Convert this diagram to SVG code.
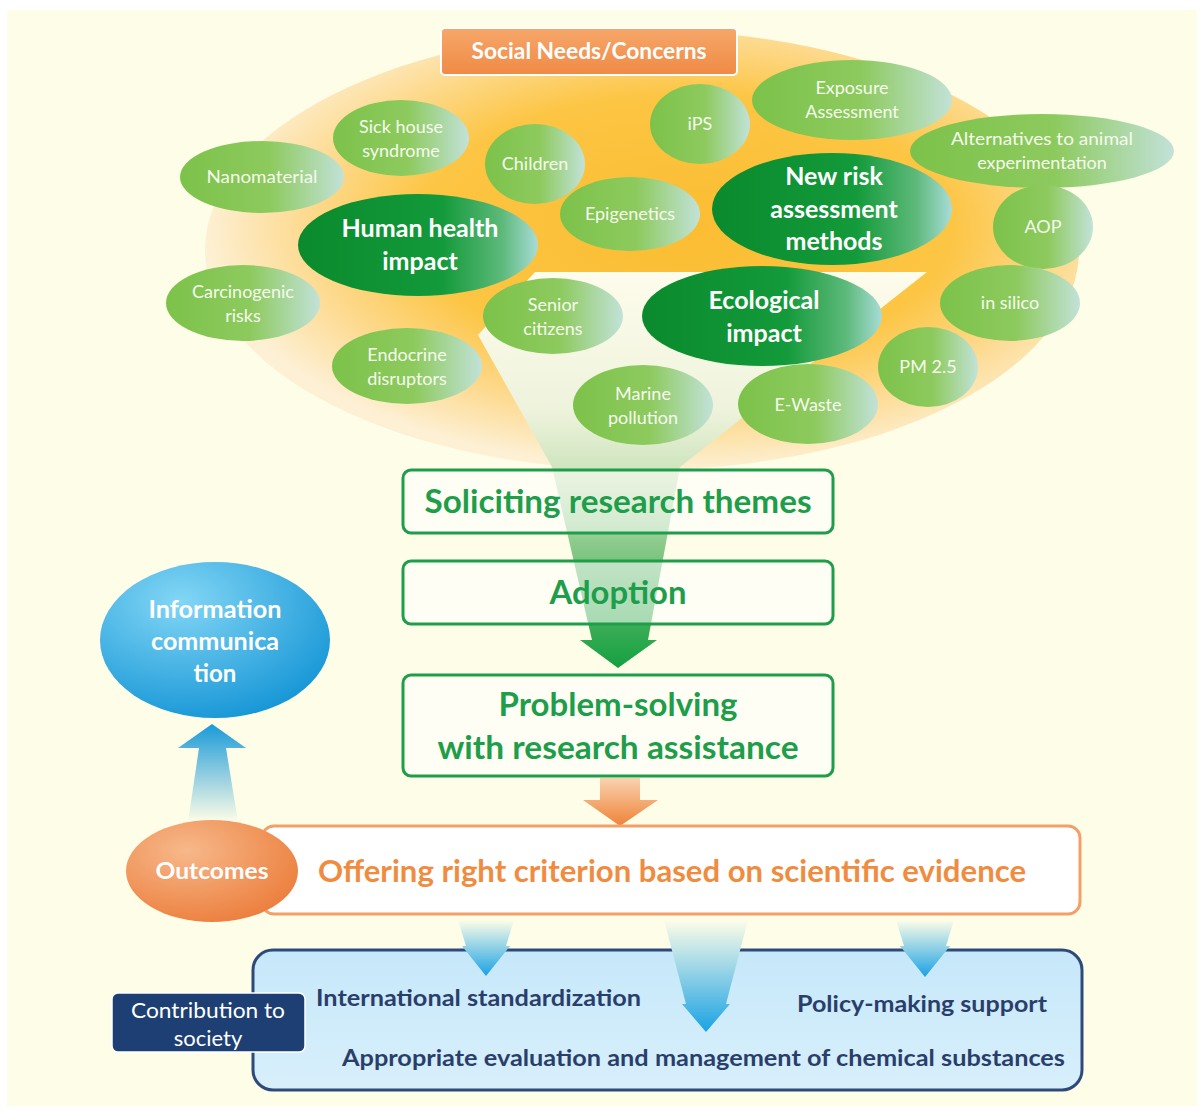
<svg xmlns="http://www.w3.org/2000/svg" width="1202" height="1110" viewBox="0 0 1202 1110">
<defs>
<radialGradient id="gBig" cx="0.55" cy="0.45" r="0.55">
<stop offset="0" stop-color="#fbbd32"/>
<stop offset="0.55" stop-color="#fcc543"/>
<stop offset="0.8" stop-color="#fddb93"/>
<stop offset="1" stop-color="#fdf0d4"/>
</radialGradient>
<linearGradient id="gFunnel" gradientUnits="userSpaceOnUse" x1="0" y1="272" x2="0" y2="668">
<stop offset="0" stop-color="#fefcec"/>
<stop offset="0.35" stop-color="#eef3dc"/>
<stop offset="0.55" stop-color="#c4e0b4"/>
<stop offset="0.8" stop-color="#5cb86a"/>
<stop offset="1" stop-color="#14a040"/>
</linearGradient>
<linearGradient id="gLight" x1="0" y1="0" x2="1" y2="0">
<stop offset="0" stop-color="#7cc24a"/>
<stop offset="0.55" stop-color="#8dca5e"/>
<stop offset="1" stop-color="#c2e2d8"/>
</linearGradient>
<linearGradient id="gDark" x1="0" y1="0" x2="1" y2="0">
<stop offset="0" stop-color="#0a8a2c"/>
<stop offset="0.6" stop-color="#139a3a"/>
<stop offset="0.85" stop-color="#5db97a"/>
<stop offset="1" stop-color="#a8dcd8"/>
</linearGradient>
<linearGradient id="gOrangeBox" x1="0" y1="0" x2="0" y2="1">
<stop offset="0" stop-color="#f6a76a"/>
<stop offset="1" stop-color="#f08a45"/>
</linearGradient>
<linearGradient id="gOrangeArrow" x1="0" y1="0" x2="0" y2="1">
<stop offset="0" stop-color="#f9d2b0"/>
<stop offset="1" stop-color="#ee8338"/>
</linearGradient>
<radialGradient id="gOutcomes" cx="0.35" cy="0.3" r="0.75">
<stop offset="0" stop-color="#f7b88a"/>
<stop offset="1" stop-color="#ec7f3e"/>
</radialGradient>
<radialGradient id="gInfo" cx="0.35" cy="0.25" r="0.8">
<stop offset="0" stop-color="#82d6f5"/>
<stop offset="1" stop-color="#1696d6"/>
</radialGradient>
<linearGradient id="gBlueUp" x1="0" y1="1" x2="0" y2="0">
<stop offset="0" stop-color="#fefde8"/>
<stop offset="1" stop-color="#1a9ad8"/>
</linearGradient>
<linearGradient id="gBlueDown" x1="0" y1="0" x2="0" y2="1">
<stop offset="0" stop-color="#fefde8"/>
<stop offset="1" stop-color="#1aa2e4"/>
</linearGradient>
<linearGradient id="gBottomBox" x1="0" y1="0" x2="0" y2="1">
<stop offset="0" stop-color="#c6e8fa"/>
<stop offset="1" stop-color="#d8effb"/>
</linearGradient>
<style>
text{font-family:Lato,"Liberation Sans",sans-serif}
.lt{font-size:18px;fill:#f6fbee;text-anchor:middle}
.dk{font-size:25px;font-weight:bold;fill:#ffffff;text-anchor:middle}
.pb{fill:#ffffff;fill-opacity:0.55;stroke:#1e9e4a;stroke-width:3}
.pt{font-size:32px;font-weight:bold;fill:#1e9e4a;text-anchor:middle}
.nv{font-size:23px;font-weight:bold;fill:#2a3e6c}
.wt{fill:#ffffff;text-anchor:middle}
.lo{fill:url(#gLight)}
.do{fill:url(#gDark)}
</style>
</defs>
<rect x="0" y="0" width="1202" height="1110" fill="#ffffff"/>
<rect x="7" y="10" width="1190" height="1096" fill="#fefde8"/>

<g id="background-fan">
<ellipse cx="642" cy="250" rx="437" ry="220" fill="url(#gBig)"/>
</g>

<g id="connectors">
<path d="M 535 272 L 927 272 L 680 467 L 648 640 L 657 640 L 618 668 L 580 640 L 592 640 L 552 467 L 478 335 Z" fill="url(#gFunnel)"/>
<path d="M 600 778 L 640 778 L 640 800 L 658 800 L 620 826 L 583 800 L 600 800 Z" fill="url(#gOrangeArrow)"/>
<path d="M 188 822 L 238 822 L 226 748 L 246 748 L 212 724 L 178 748 L 199 748 Z" fill="url(#gBlueUp)"/>
</g>

<g id="social-needs">
<rect x="441" y="28" width="296" height="47" rx="4" fill="url(#gOrangeBox)" stroke="#ffffff" stroke-width="2"/>
<text x="589" y="59" font-size="22" font-weight="bold" class="wt" textLength="235" lengthAdjust="spacingAndGlyphs">Social Needs/Concerns</text>
</g>

<g id="n-nanomaterial"><ellipse cx="262" cy="177" rx="82" ry="36" class="lo"/><text class="lt" x="262" y="183" textLength="111" lengthAdjust="spacingAndGlyphs">Nanomaterial</text></g>
<g id="n-sickhouse"><ellipse cx="401" cy="138" rx="68" ry="38" class="lo"/><text class="lt" x="401" y="133">Sick house</text><text class="lt" x="401" y="157">syndrome</text></g>
<g id="n-children"><ellipse cx="535" cy="164" rx="50" ry="40" class="lo"/><text class="lt" x="535" y="170">Children</text></g>
<g id="n-ips"><ellipse cx="700" cy="124" rx="50" ry="40" class="lo"/><text class="lt" x="700" y="130">iPS</text></g>
<g id="n-exposure"><ellipse cx="852" cy="100" rx="100" ry="40" class="lo"/><text class="lt" x="852" y="94">Exposure</text><text class="lt" x="852" y="118">Assessment</text></g>
<g id="n-alternatives"><ellipse cx="1042" cy="151" rx="132" ry="37" class="lo"/><text class="lt" x="1042" y="145" textLength="182" lengthAdjust="spacingAndGlyphs">Alternatives to animal</text><text class="lt" x="1042" y="169">experimentation</text></g>
<g id="n-epigenetics"><ellipse cx="630" cy="214" rx="70" ry="37" class="lo"/><text class="lt" x="630" y="220">Epigenetics</text></g>
<g id="n-aop"><ellipse cx="1043" cy="227" rx="50" ry="42" class="lo"/><text class="lt" x="1043" y="233">AOP</text></g>
<g id="n-carcinogenic"><ellipse cx="243" cy="303" rx="77" ry="38" class="lo"/><text class="lt" x="243" y="298">Carcinogenic</text><text class="lt" x="243" y="322">risks</text></g>
<g id="n-senior"><ellipse cx="553" cy="316" rx="70" ry="38" class="lo"/><text class="lt" x="553" y="311">Senior</text><text class="lt" x="553" y="335">citizens</text></g>
<g id="n-insilico"><ellipse cx="1010" cy="303" rx="70" ry="38" class="lo"/><text class="lt" x="1010" y="309">in silico</text></g>
<g id="n-endocrine"><ellipse cx="407" cy="366" rx="75" ry="38" class="lo"/><text class="lt" x="407" y="361">Endocrine</text><text class="lt" x="407" y="385">disruptors</text></g>
<g id="n-pm25"><ellipse cx="928" cy="367" rx="50" ry="40" class="lo"/><text class="lt" x="928" y="373">PM 2.5</text></g>
<g id="n-marine"><ellipse cx="643" cy="405" rx="70" ry="40" class="lo"/><text class="lt" x="643" y="400">Marine</text><text class="lt" x="643" y="424">pollution</text></g>
<g id="n-ewaste"><ellipse cx="808" cy="404" rx="70" ry="40" class="lo"/><text class="lt" x="808" y="411">E-Waste</text></g>

<g id="n-human"><ellipse cx="418" cy="245" rx="120" ry="51" class="do"/><text class="dk" x="420" y="237" textLength="157" lengthAdjust="spacingAndGlyphs">Human health</text><text class="dk" x="420" y="270">impact</text></g>
<g id="n-newrisk"><ellipse cx="832" cy="209" rx="120" ry="56" class="do"/><text class="dk" x="834" y="185">New risk</text><text class="dk" x="834" y="218">assessment</text><text class="dk" x="834" y="250">methods</text></g>
<g id="n-ecological"><ellipse cx="762" cy="316" rx="120" ry="50" class="do"/><text class="dk" x="764" y="309">Ecological</text><text class="dk" x="764" y="342">impact</text></g>

<g id="p-soliciting"><rect x="403" y="470" width="430" height="63" rx="8" class="pb"/><text class="pt" x="618" y="513" textLength="387" lengthAdjust="spacingAndGlyphs">Soliciting research themes</text></g>
<g id="p-adoption"><rect x="403" y="561" width="430" height="63" rx="8" class="pb"/><text class="pt" x="618" y="604" textLength="137" lengthAdjust="spacingAndGlyphs">Adoption</text></g>
<g id="p-problem"><rect x="403" y="675" width="430" height="101" rx="8" class="pb"/><text class="pt" x="618" y="716" textLength="239" lengthAdjust="spacingAndGlyphs">Problem-solving</text><text class="pt" x="618" y="759" textLength="361" lengthAdjust="spacingAndGlyphs">with research assistance</text></g>

<g id="info"><ellipse cx="215" cy="640" rx="115" ry="78" fill="url(#gInfo)"/>
<text x="215" y="618" font-size="24" font-weight="bold" class="wt" textLength="133" lengthAdjust="spacingAndGlyphs">Information</text>
<text x="215" y="650" font-size="24" font-weight="bold" class="wt" textLength="128" lengthAdjust="spacingAndGlyphs">communica</text>
<text x="215" y="682" font-size="24" font-weight="bold" class="wt">tion</text></g>

<g id="offering"><rect x="262" y="826" width="818" height="88" rx="12" fill="#ffffff" stroke="#f2a067" stroke-width="3"/>
<text x="672" y="882" font-size="30" font-weight="bold" fill="#f08c40" text-anchor="middle" textLength="708" lengthAdjust="spacingAndGlyphs">Offering right criterion based on scientific evidence</text></g>
<g id="outcomes"><ellipse cx="212" cy="871" rx="86" ry="51" fill="url(#gOutcomes)"/>
<text x="212" y="879" font-size="22" font-weight="bold" class="wt" textLength="113" lengthAdjust="spacingAndGlyphs">Outcomes</text></g>

<g id="contribution-box"><rect x="253" y="950" width="829" height="140" rx="20" fill="url(#gBottomBox)" stroke="#2e4a7a" stroke-width="3"/>
<text class="nv" x="316" y="1006" textLength="325" lengthAdjust="spacingAndGlyphs">International standardization</text>
<text class="nv" x="797" y="1012" textLength="250" lengthAdjust="spacingAndGlyphs">Policy-making support</text>
<text class="nv" x="342" y="1066" textLength="723" lengthAdjust="spacingAndGlyphs">Appropriate evaluation and management of chemical substances</text></g>
<g id="down-arrows">
<path d="M 664 920 L 748 920 L 726 1004 L 730 1004 L 706 1032 L 682 1004 L 686 1004 Z" fill="url(#gBlueDown)"/>
<path d="M 458 920 L 514 920 L 506 946 L 510 946 L 486 976 L 462 946 L 466 946 Z" fill="url(#gBlueDown)"/>
<path d="M 896 920 L 954 920 L 946 946 L 950 946 L 925 977 L 900 946 L 904 946 Z" fill="url(#gBlueDown)"/>
</g>
<g id="contribution-label"><rect x="112" y="993" width="193" height="59" rx="6" fill="#1e3f73" stroke="#ffffff" stroke-width="1.5"/>
<text x="208" y="1018" font-size="22" class="wt" textLength="154" lengthAdjust="spacingAndGlyphs">Contribution to</text>
<text x="208" y="1046" font-size="22" class="wt">society</text></g>
</svg>
